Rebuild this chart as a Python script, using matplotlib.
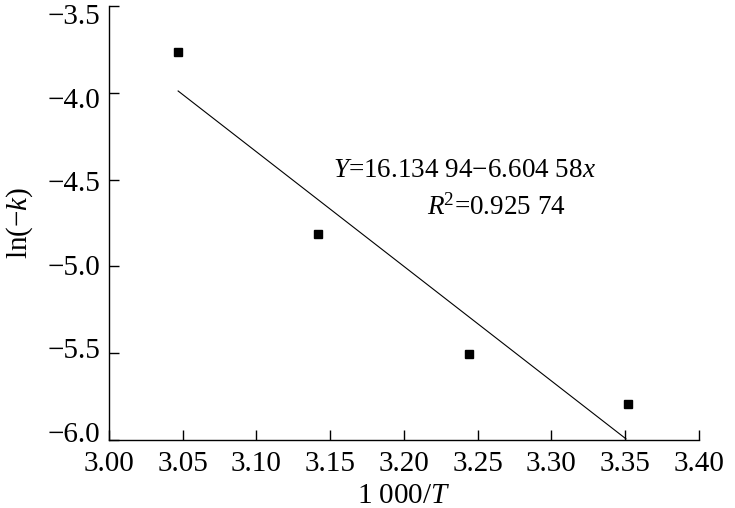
import numpy as np
import matplotlib.pyplot as plt
from matplotlib.transforms import ScaledTranslation

plt.rcParams['font.family'] = ['Liberation Serif', 'DejaVu Serif']
plt.rcParams['mathtext.fontset'] = 'custom'
plt.rcParams['mathtext.rm'] = 'Liberation Serif'
plt.rcParams['mathtext.it'] = 'Liberation Serif:italic'

# 数据点 (1000/T, ln(-k))
inv_T = [3.047, 3.142, 3.244, 3.352]
ln_k = [-3.764, -4.816, -5.506, -5.793]

# 拟合直线
intercept = 16.13494
slope = -6.60458

xticks = [3.00, 3.05, 3.10, 3.15, 3.20, 3.25, 3.30, 3.35, 3.40]
yticks = [-6.0, -5.5, -5.0, -4.5, -4.0, -3.5]

fig = plt.figure(figsize=(7.35, 5.08), dpi=100)
ax = fig.add_axes([0.148, 0.134, 0.803, 0.854])

xs = np.array([min(inv_T), 3.3505])
ax.plot(xs, intercept + slope * xs, c='k', lw=0.8)
ax.plot(inv_T, ln_k, ls='none', marker='s', ms=5.5, c='k')

ax.set_xlim(3.00, 3.40)
ax.set_ylim(-6.0, -3.5)
ax.set_xticks(xticks)
ax.set_xticklabels([f'{v:.2f}' for v in xticks])
ax.set_yticks(yticks)
ax.set_yticklabels([f'{v:.1f}'.replace('-', '\u2212') for v in yticks])

for s in ['top', 'right']:
    ax.spines[s].set_visible(False)
for s in ['left', 'bottom']:
    ax.spines[s].set_linewidth(1.0)
ax.tick_params(direction='in', length=7, width=1.0, labelsize=21)
ax.tick_params(axis='x', pad=8)
ax.tick_params(axis='y', pad=6)

# y 刻度标签略向中间收拢
for i, lab in enumerate(ax.get_yticklabels()):
    dy = (8 - 16 * i / 5) / 100.0
    lab.set_transform(lab.get_transform() + ScaledTranslation(0, dy, fig.dpi_scale_trans))

ax.set_xlabel('1 000/$T$', fontsize=21, labelpad=4)
ax.set_ylabel('ln(\u2212$k$)', fontsize=21, labelpad=9)

ax.text(3.241, -4.448, '$Y$=16.134 94\u22126.604 58$x$', fontsize=19.5, ha='center', va='center')
ax.text(3.2625, -4.661, '$R$$^2$=0.925 74', fontsize=19.5, ha='center', va='center')

fig.savefig('out.png', dpi=100)
